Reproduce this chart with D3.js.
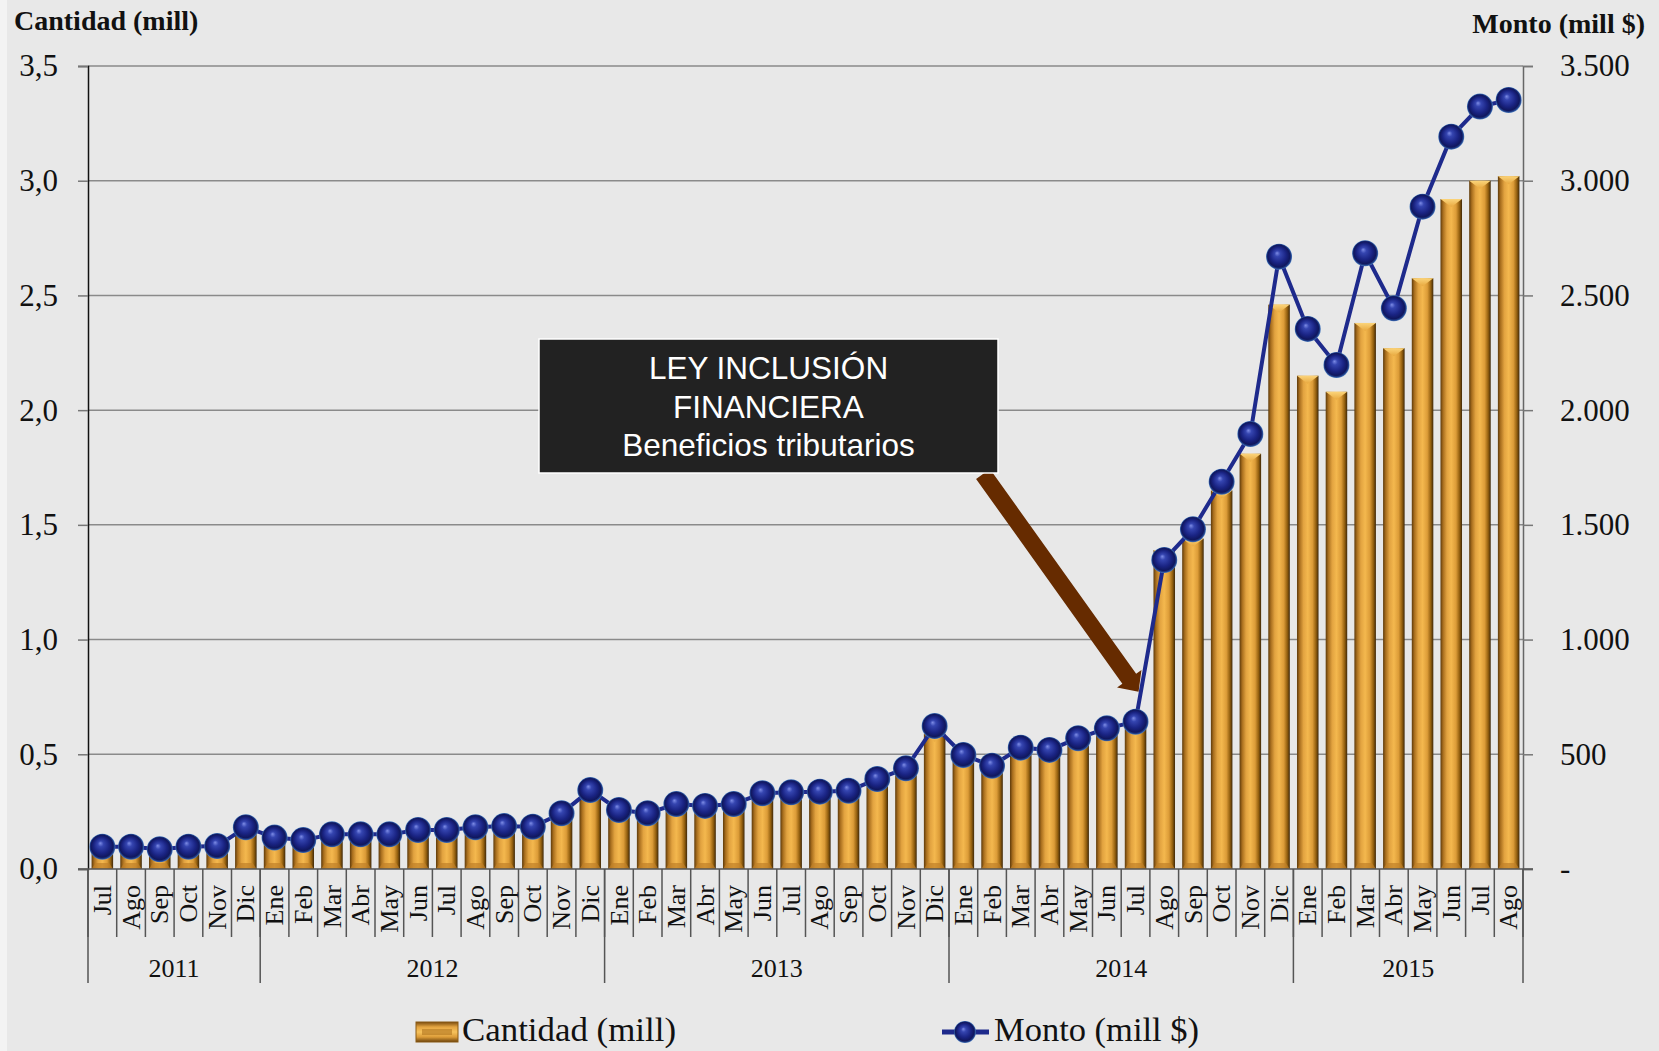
<!DOCTYPE html>
<html>
<head>
<meta charset="utf-8">
<script src="https://cdn.jsdelivr.net/npm/d3@7"></script>
<style>
  body { margin: 0; background: #e8e8e8; }
  svg { display: block; }
</style>
</head>
<body>
<svg width="1659" height="1051"></svg>
<script>
// datos
const meses = ["Jul","Ago","Sep","Oct","Nov","Dic",
  "Ene","Feb","Mar","Abr","May","Jun","Jul","Ago","Sep","Oct","Nov","Dic",
  "Ene","Feb","Mar","Abr","May","Jun","Jul","Ago","Sep","Oct","Nov","Dic",
  "Ene","Feb","Mar","Abr","May","Jun","Jul","Ago","Sep","Oct","Nov","Dic",
  "Ene","Feb","Mar","Abr","May","Jun","Jul","Ago"];
const anios = ["2011","2012","2013","2014","2015"];
const mesesPorAnio = [6, 12, 12, 12, 8];

// Cantidad (mill) - barras, eje izquierdo
const cantidad = [0.08,0.08,0.07,0.08,0.09,0.17,
  0.13,0.12,0.15,0.15,0.15,0.17,0.17,0.18,0.18,0.18,0.23,0.32,
  0.25,0.27,0.28,0.27,0.28,0.32,0.32,0.33,0.33,0.37,0.41,0.59,
  0.47,0.48,0.51,0.51,0.55,0.60,0.62,1.39,1.44,1.65,1.81,2.46,
  2.15,2.08,2.38,2.27,2.575,2.92,3.00,3.02];

// Monto (mill $) - linea, eje derecho
const monto = [97,97,86,97,100,182,
  137,126,151,151,151,170,170,182,187,184,243,344,
  257,243,283,275,283,330,334,337,341,392,439,623,
  497,450,529,519,570,613,642,1347,1481,1688,1896,2669,
  2354,2197,2684,2444,2887,3192,3323,3352];

const ticksIzq = [0, 0.5, 1, 1.5, 2, 2.5, 3, 3.5];
const ticksDer = [0, 500, 1000, 1500, 2000, 2500, 3000, 3500];

const nota = ["LEY INCLUSIÓN", "FINANCIERA", "Beneficios tributarios"];

const serif = '"Liberation Serif", "DejaVu Serif", serif';
const sans = '"Liberation Sans", Arial, sans-serif';

const svg = d3.select('svg');
const width = +svg.attr('width');
const height = +svg.attr('height');
const margin = { top: 66, right: 136, bottom: 182, left: 88 };

svg.append('rect').attr('width', width).attr('height', height).attr('fill', '#e8e8e8');
svg.append('rect').attr('width', 7).attr('height', height).attr('fill', '#f3f3f3');

const defs = svg.append('defs');

// degradado barra (dorado)
const gBar = defs.append('linearGradient').attr('id', 'oro').attr('x1', '0%').attr('x2', '100%');
[['0%', '#5e3a0a'], ['12%', '#a86e1e'], ['30%', '#e2a340'], ['50%', '#f4b84e'],
 ['72%', '#dc9c38'], ['88%', '#94600f'], ['100%', '#3f2808']]
  .forEach(s => gBar.append('stop').attr('offset', s[0]).attr('stop-color', s[1]));

const gTop = defs.append('linearGradient').attr('id', 'oroTop').attr('x1', '0%').attr('x2', '0%').attr('y1', '0%').attr('y2', '100%');
gTop.append('stop').attr('offset', '0%').attr('stop-color', '#fbd47a');
gTop.append('stop').attr('offset', '100%').attr('stop-color', '#e8a83e');

const gLeg = defs.append('linearGradient').attr('id', 'oroLeg').attr('x1', '0%').attr('x2', '0%').attr('y1', '0%').attr('y2', '100%');
[['0%', '#7a4c10'], ['25%', '#e4a440'], ['50%', '#f6c25c'], ['75%', '#dc9c38'], ['100%', '#6a420c']]
  .forEach(s => gLeg.append('stop').attr('offset', s[0]).attr('stop-color', s[1]));

// esfera azul
const gDot = defs.append('radialGradient').attr('id', 'esfera')
  .attr('cx', '50%').attr('cy', '50%').attr('r', '50%').attr('fx', '42%').attr('fy', '36%');
[['0%', '#7d8ce6'], ['22%', '#3545b0'], ['60%', '#1a2484'], ['85%', '#10175e'], ['93%', '#1f3c86'], ['100%', '#4a7cc0']]
  .forEach(s => gDot.append('stop').attr('offset', s[0]).attr('stop-color', s[1]));

const x = d3.scaleBand()
  .domain(d3.range(meses.length))
  .range([margin.left, width - margin.right])
  .paddingInner(0.25)
  .paddingOuter(0.125);
const paso = x.step();
const borde = i => x(i) - paso * 0.125;

const yL = d3.scaleLinear().domain([0, 3.5]).range([height - margin.bottom, margin.top]);
const yR = d3.scaleLinear().domain([0, 3500]).range([height - margin.bottom, margin.top]);
const y0 = yL(0);

// cuadricula
svg.append('g').selectAll('line').data(ticksIzq.slice(1)).enter().append('line')
  .attr('x1', margin.left).attr('x2', width - margin.right)
  .attr('y1', d => yL(d)).attr('y2', d => yL(d))
  .attr('stroke', '#8a8a8a').attr('stroke-width', 1.5);

// eje izquierdo
const ejeIzq = svg.append('g').attr('transform', `translate(${margin.left},0)`)
  .call(d3.axisLeft(yL).tickValues(ticksIzq).tickSize(10).tickPadding(20)
    .tickFormat(d => d3.format('.1f')(d).replace('.', ',')));
ejeIzq.select('.domain').attr('stroke', '#111').attr('stroke-width', 1.5);
ejeIzq.selectAll('.tick line').attr('stroke', '#777').attr('stroke-width', 1.5);
ejeIzq.selectAll('text').style('font-size', '31px').style('font-family', serif).attr('fill', '#111');

// eje derecho
const ejeDer = svg.append('g').attr('transform', `translate(${width - margin.right},0)`)
  .call(d3.axisRight(yR).tickValues(ticksDer).tickSize(10).tickPadding(27)
    .tickFormat(d => d === 0 ? '-' : d3.format(',')(d).replace(',', '.')));
ejeDer.select('.domain').attr('stroke', '#666').attr('stroke-width', 1.5);
ejeDer.selectAll('.tick line').attr('stroke', '#777').attr('stroke-width', 1.5);
ejeDer.selectAll('text').style('font-size', '31px').style('font-family', serif).attr('fill', '#111');

// barras
const barras = svg.append('g').selectAll('g.barra').data(cantidad).enter().append('g').attr('class', 'barra');
barras.append('rect')
  .attr('x', (d, i) => x(i))
  .attr('y', d => yL(d))
  .attr('width', x.bandwidth())
  .attr('height', d => y0 - yL(d))
  .attr('fill', 'url(#oro)');
const bisel = Math.min(8, x.bandwidth() / 2.5);
barras.append('path')
  .attr('d', (d, i) => {
    const a = x(i), b = x(i) + x.bandwidth(), t = yL(d);
    return `M${a},${t}L${b},${t}L${(a + b) / 2},${t + bisel}Z`;
  })
  .attr('fill', 'url(#oroTop)');
barras.append('path')
  .attr('d', (d, i) => {
    const a = x(i), b = x(i) + x.bandwidth();
    return `M${a},${y0}L${b},${y0}L${b - 4},${y0 - 6}L${a + 4},${y0 - 6}Z`;
  })
  .attr('fill', '#c08028').attr('opacity', 0.7);

// eje inferior
svg.append('line')
  .attr('x1', margin.left - 10).attr('x2', width - margin.right + 10)
  .attr('y1', y0).attr('y2', y0)
  .attr('stroke', '#555').attr('stroke-width', 1.5);

// separadores de meses
svg.append('g').selectAll('line').data(d3.range(meses.length + 1)).enter().append('line')
  .attr('x1', i => i < meses.length ? borde(i) : borde(i - 1) + paso)
  .attr('x2', i => i < meses.length ? borde(i) : borde(i - 1) + paso)
  .attr('y1', y0).attr('y2', y0 + 68)
  .attr('stroke', '#555').attr('stroke-width', 1.5);

// separadores de anios
const cortes = [0];
mesesPorAnio.forEach(n => cortes.push(cortes[cortes.length - 1] + n));
svg.append('g').selectAll('line').data(cortes).enter().append('line')
  .attr('x1', c => margin.left + c * paso).attr('x2', c => margin.left + c * paso)
  .attr('y1', y0).attr('y2', y0 + 114)
  .attr('stroke', '#555').attr('stroke-width', 1.5);

// etiquetas de meses
svg.append('g').selectAll('text').data(meses).enter().append('text')
  .attr('transform', (d, i) => `translate(${x(i) + x.bandwidth() / 2},${y0 + 16}) rotate(-90)`)
  .attr('text-anchor', 'end')
  .attr('dy', '0.33em')
  .style('font-family', serif).style('font-size', '26px').attr('fill', '#111')
  .text(d => d);

// etiquetas de anios
svg.append('g').selectAll('text').data(anios).enter().append('text')
  .attr('x', (d, i) => margin.left + (cortes[i] + cortes[i + 1]) / 2 * paso)
  .attr('y', y0 + 108)
  .attr('text-anchor', 'middle')
  .style('font-family', serif).style('font-size', '26px').attr('fill', '#111')
  .text(d => d);

// linea monto
const linea = d3.line().x((d, i) => x(i) + x.bandwidth() / 2).y(d => yR(d));
svg.append('path').datum(monto)
  .attr('d', linea)
  .attr('fill', 'none')
  .attr('stroke', '#1e2a8c')
  .attr('stroke-width', 4);
svg.append('g').selectAll('circle').data(monto).enter().append('circle')
  .attr('cx', (d, i) => x(i) + x.bandwidth() / 2)
  .attr('cy', d => yR(d))
  .attr('r', 13)
  .attr('fill', 'url(#esfera)');

// titulos de ejes
svg.append('text').attr('x', 14).attr('y', 30)
  .style('font-family', serif).style('font-size', '28px').style('font-weight', 'bold')
  .attr('fill', '#111').text('Cantidad (mill)');
svg.append('text').attr('x', 1645).attr('y', 33).attr('text-anchor', 'end')
  .style('font-family', serif).style('font-size', '28px').style('font-weight', 'bold')
  .attr('fill', '#111').text('Monto (mill $)');

// flecha de la nota
const jul14 = meses.length - 14;
const punta = [x(jul14) + x.bandwidth() / 2 + 3, yR(monto[jul14]) - 30];
const inicio = [983, 474];
const dx = punta[0] - inicio[0], dy = punta[1] - inicio[1];
const L = Math.hypot(dx, dy), ux = dx / L, uy = dy / L, nx = -uy, ny = ux;
const base = [punta[0] - ux * 16, punta[1] - uy * 16];
const ws = 8.5, wh = 15;
const flecha = [
  [inicio[0] + nx * ws, inicio[1] + ny * ws],
  [base[0] + nx * ws, base[1] + ny * ws],
  [base[0] + nx * wh, base[1] + ny * wh],
  punta,
  [base[0] - nx * wh, base[1] - ny * wh],
  [base[0] - nx * ws, base[1] - ny * ws],
  [inicio[0] - nx * ws, inicio[1] - ny * ws]
];
svg.append('path').attr('d', d3.line()(flecha) + 'Z').attr('fill', '#662b00');

// caja de la nota
svg.append('rect').attr('x', 539).attr('y', 339).attr('width', 459).attr('height', 134)
  .attr('fill', '#222').attr('stroke', '#fff').attr('stroke-width', 1.5);
svg.append('g').selectAll('text').data(nota).enter().append('text')
  .attr('x', 768.5).attr('y', (d, i) => 379 + i * 38.5)
  .attr('text-anchor', 'middle')
  .style('font-family', sans)
  .style('font-size', '31.5px')
  .style('fill', '#fff')
  .text(d => d);

// leyenda
const ley = svg.append('g');
ley.append('rect').attr('x', 416).attr('y', 1022).attr('width', 42).attr('height', 20)
  .attr('fill', 'url(#oroLeg)').attr('stroke', '#8a5a14').attr('stroke-width', 1);
ley.append('rect').attr('x', 422).attr('y', 1029).attr('width', 30).attr('height', 6)
  .attr('fill', '#b07420').attr('opacity', 0.6);
ley.append('text').attr('x', 462).attr('y', 1041)
  .style('font-family', serif).style('font-size', '33px').attr('fill', '#111')
  .attr('textLength', 214).attr('lengthAdjust', 'spacingAndGlyphs')
  .text('Cantidad (mill)');
ley.append('line').attr('x1', 942).attr('x2', 989).attr('y1', 1032).attr('y2', 1032)
  .attr('stroke', '#1e2a8c').attr('stroke-width', 5);
ley.append('circle').attr('cx', 965).attr('cy', 1032).attr('r', 11).attr('fill', 'url(#esfera)');
ley.append('text').attr('x', 994).attr('y', 1041)
  .style('font-family', serif).style('font-size', '33px').attr('fill', '#111')
  .attr('textLength', 205).attr('lengthAdjust', 'spacingAndGlyphs')
  .text('Monto (mill $)');
</script>
</body>
</html>
